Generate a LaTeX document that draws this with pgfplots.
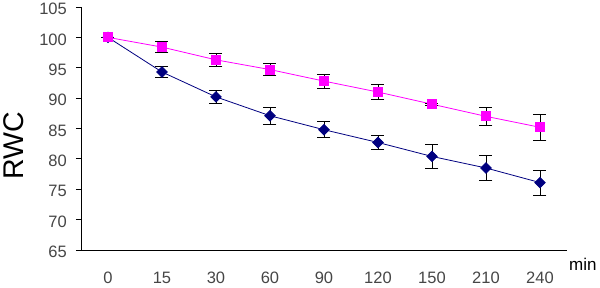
\documentclass[border=0pt]{standalone}
\usepackage{fontspec}
\setmainfont{Liberation Sans}
\usepackage{pgfplots}
\pgfplotsset{compat=1.18}
\definecolor{navyc}{RGB}{0,0,128}
\definecolor{pinkc}{RGB}{255,0,255}
\definecolor{tickgray}{RGB}{70,70,70}
\begin{document}
\begin{tikzpicture}
\path[use as bounding box] (-81pt,-37pt) rectangle (519pt,250pt);
\begin{axis}[
  at={(0pt,0pt)}, anchor=south west,
  scale only axis, width=486pt, height=243pt,
  xmin=-0.5, xmax=8.5, ymin=65, ymax=105,
  axis x line*=bottom, axis y line*=left,
  axis line style={black, line width=0.8pt},
  xtick={0,...,8},
  xticklabels={0,15,30,60,90,120,150,210,240},
  x tick style={draw=none},
  extra x ticks={0.5,1.5,...,8.5},
  extra x tick labels={},
  extra x tick style={xtick align=inside, tick style={black, line width=0.8pt, draw=black}},
  ytick={65,70,...,105},
  /pgf/number format/assume math mode=true,
  ticklabel style={font=\fontsize{16.5}{18}\selectfont, text=tickgray},
  y tick style={black, line width=0.8pt},
  xtick align=inside, ytick align=outside,
  major tick length=5pt,
  xticklabel style={anchor=north, inner sep=0pt, yshift=-22pt},
  yticklabel style={anchor=east, inner sep=0pt, xshift=-9pt, yshift=-2pt},
  clip=false,
]
\addplot[navyc, line width=0.8pt, mark=square*, mark size=3.7pt, mark options={rotate=45, fill=navyc, draw=navyc},
  error bars/.cd, y dir=both, y explicit,
  error bar style={black, line width=0.9pt},
  error mark options={black, rotate=90, mark size=6.5pt, line width=0.9pt}]
coordinates {
(0,100) +- (0,0)
(1,94.3) +- (0,0.9)
(2,90.2) +- (0,1.0)
(3,87.1) +- (0,1.4)
(4,84.8) +- (0,1.3)
(5,82.7) +- (0,1.15)
(6,80.4) +- (0,1.9)
(7,78.5) +- (0,2.0)
(8,76.1) +- (0,2.05)
};
\addplot[pinkc, line width=0.8pt, mark=square*, mark size=4.5pt, mark options={fill=pinkc, draw=pinkc},
  error bars/.cd, y dir=both, y explicit,
  error bar style={black, line width=0.9pt},
  error mark options={black, rotate=90, mark size=6.5pt, line width=0.9pt}]
coordinates {
(0,100) +- (0,0)
(1,98.4) +- (0,0.9)
(2,96.3) +- (0,1.1)
(3,94.7) +- (0,1.0)
(4,92.8) +- (0,1.15)
(5,91.0) +- (0,1.3)
(6,89.0) +- (0,0.2)
(7,87.0) +- (0,1.5)
(8,85.2) +- (0,2.1)
};
\end{axis}
\node[anchor=base west, font=\fontsize{17}{19}\selectfont, inner sep=0pt] at (488pt,-20pt) {min};
\node[rotate=90, font=\fontsize{28.5}{30}\selectfont, inner sep=0pt] at (-67pt,104pt) {RWC};
\end{tikzpicture}
\end{document}
